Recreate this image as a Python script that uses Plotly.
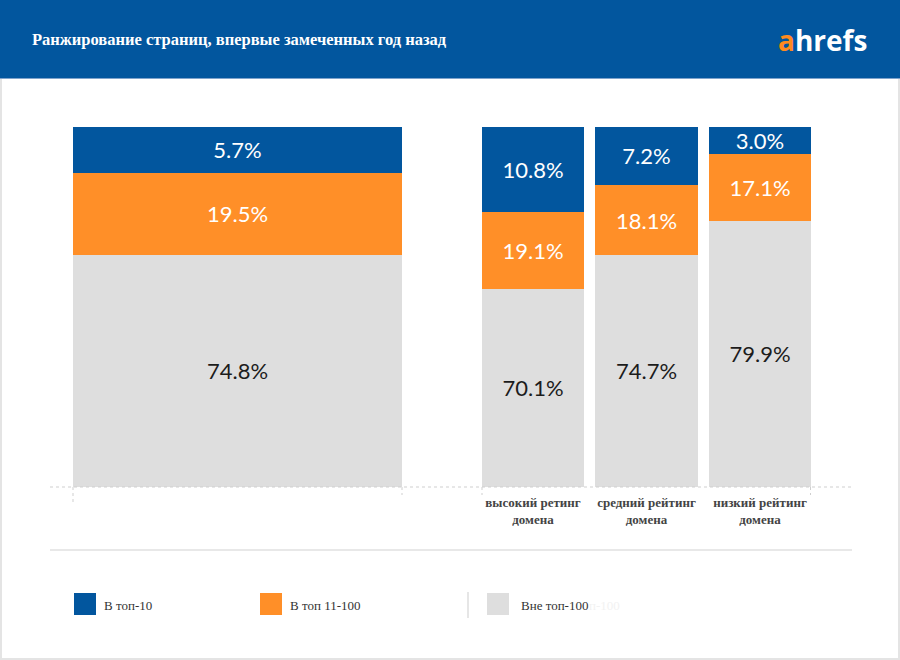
import plotly.graph_objects as go

W, H = 900, 660

# ---------------- data ----------------
title_text = "Ранжирование страниц, впервые замеченных год назад"
series_names = ["В топ-10", "В топ 11-100", "Вне топ-100"]

all_category = ["все страницы"]
domain_categories = ["высокий ретинг<br>домена", "средний рейтинг<br>домена", "низкий рейтинг<br>домена"]

# printed percentages
all_top10 = [5.7]
all_top11_100 = [19.5]
all_out100 = [74.8]
dom_top10 = [10.8, 7.2, 3.0]
dom_top11_100 = [19.1, 18.1, 17.1]
dom_out100 = [70.1, 74.7, 79.9]

# segment heights as drawn in the picture (% of bar height)
drawn_all_top10 = [12.8]
drawn_all_top11_100 = [22.8]
drawn_all_out100 = [64.4]
drawn_dom_top10 = [23.6, 16.2, 7.5]
drawn_dom_top11_100 = [21.4, 19.4, 18.6]
drawn_dom_out100 = [55.0, 64.4, 73.9]

# ---------------- style ----------------
BLUE = "#02569E"
ORANGE = "#FF8F28"
GREY = "#DEDEDE"
HEADER = "#02569E"
colors = [BLUE, ORANGE, GREY]
text_colors = ["white", "white", "#1c1c1c"]
SERIF = "Liberation Serif, DejaVu Serif, serif"


def px(x):
    return x / W


def py(y):
    return 1 - y / H


fig = go.Figure()

big_sets = [(drawn_all_top10, all_top10), (drawn_all_top11_100, all_top11_100), (drawn_all_out100, all_out100)]
dom_sets = [(drawn_dom_top10, dom_top10), (drawn_dom_top11_100, dom_top11_100), (drawn_dom_out100, dom_out100)]

# stack from the bottom: grey, orange, blue
for i in [2, 1, 0]:
    h, lab = big_sets[i]
    fig.add_trace(go.Bar(
        x=all_category, y=h, customdata=lab, name=series_names[i], xaxis="x", yaxis="y",
        marker=dict(color=colors[i], line=dict(width=0)), width=1.0,
        texttemplate="%{customdata:.1f}%", textposition="inside", insidetextanchor="middle",
        textangle=0, textfont=dict(family="Lato", size=22, color=text_colors[i]),
        showlegend=False, hoverinfo="skip"))
for i in [2, 1, 0]:
    h, lab = dom_sets[i]
    fig.add_trace(go.Bar(
        x=domain_categories, y=h, customdata=lab, name=series_names[i], xaxis="x2", yaxis="y",
        marker=dict(color=colors[i], line=dict(width=0)), width=0.9,
        texttemplate="%{customdata:.1f}%", textposition="inside", insidetextanchor="middle",
        textangle=0, textfont=dict(family="Lato", size=22, color=text_colors[i]),
        showlegend=False, hoverinfo="skip"))

ydom = [py(487), py(126.7)]
fig.update_layout(
    width=W, height=H, margin=dict(l=0, r=0, t=0, b=0),
    paper_bgcolor="white", plot_bgcolor="rgba(0,0,0,0)",
    barmode="stack",
    uniformtext=dict(minsize=22, mode="show"),
    xaxis=dict(domain=[px(73), px(402)], type="category", range=[-0.5, 0.5],
               showticklabels=False, showgrid=False, zeroline=False, showline=False, ticks="", anchor="y"),
    xaxis2=dict(domain=[px(476.25), px(816.75)], type="category", range=[-0.5, 2.5],
                showgrid=False, zeroline=False, showline=False, ticks="", anchor="y",
                tickfont=dict(family=SERIF, size=13, color="#444444", weight="bold"),
                ticklabelstandoff=6),
    yaxis=dict(domain=ydom, range=[0, 100], visible=False, fixedrange=True),
)

shapes = []
# header band
shapes.append(dict(type="rect", xref="paper", yref="paper", x0=0, x1=1, y0=py(78), y1=1,
                   fillcolor=HEADER, line=dict(width=0), layer="below"))
shapes.append(dict(type="line", xref="paper", yref="paper", x0=0, x1=1, y0=py(78.5), y1=py(78.5),
                   line=dict(color="#7fa3cc", width=1)))
# outer border (left, right, bottom)
for (x0, y0, x1, y1) in [(1, 79, 1, 660), (899, 79, 899, 660), (0, 659, 900, 659)]:
    shapes.append(dict(type="line", xref="paper", yref="paper", x0=px(x0), x1=px(x1), y0=py(y0), y1=py(y1),
                       line=dict(color="#e4e4e4", width=2)))
# dotted baseline
shapes.append(dict(type="line", xref="paper", yref="paper", x0=px(50), x1=px(852), y0=py(487), y1=py(487),
                   line=dict(color="#cfcfcf", width=1, dash="dot")))
# dotted edge ticks
for (x, y2) in [(73, 504), (402, 495), (482, 495), (810.5, 495)]:
    shapes.append(dict(type="line", xref="paper", yref="paper", x0=px(x), x1=px(x), y0=py(487), y1=py(y2),
                       line=dict(color="#cfcfcf", width=1, dash="dot")))
# separator line
shapes.append(dict(type="line", xref="paper", yref="paper", x0=px(50), x1=px(852), y0=py(550), y1=py(550),
                   line=dict(color="#e8e8e8", width=2)))
# legend swatches
legend_x = [74, 260, 487]
for i in range(3):
    shapes.append(dict(type="rect", xref="paper", yref="paper", x0=px(legend_x[i]), x1=px(legend_x[i] + 22),
                       y0=py(615), y1=py(593), fillcolor=colors[i], line=dict(width=0)))
shapes.append(dict(type="line", xref="paper", yref="paper", x0=px(468), x1=px(468), y0=py(592), y1=py(618),
                   line=dict(color="#e6e6e6", width=2)))
fig.update_layout(shapes=shapes)

annotations = [
    dict(text=f"<b>{title_text}</b>", xref="paper", yref="paper", x=px(30), y=py(40),
         xanchor="left", yanchor="middle", showarrow=False,
         font=dict(family=SERIF, size=16.5, color="white")),
    dict(text='<span style="color:#FF8A1E">a</span>hrefs', xref="paper", yref="paper", x=px(869), y=py(40),
         xanchor="right", yanchor="middle", showarrow=False,
         font=dict(family="Open Sans", size=28, color="white", weight="bold")),
]
legend_text_x = [102, 288, 519]
for i, name in enumerate(series_names):
    annotations.append(dict(text=name, xref="paper", yref="paper", x=px(legend_text_x[i]), y=py(605),
                            xanchor="left", yanchor="middle", showarrow=False,
                            font=dict(family=SERIF, size=13, color="#333333")))
annotations.append(dict(text="п-100", xref="paper", yref="paper", x=px(587), y=py(605),
                        xanchor="left", yanchor="middle", showarrow=False,
                        font=dict(family=SERIF, size=13, color="#f2f2f2")))
fig.update_layout(annotations=annotations)

fig.write_html("out.html", config={"displayModeBar": False},
               post_script="document.body.style.margin='0px';")
